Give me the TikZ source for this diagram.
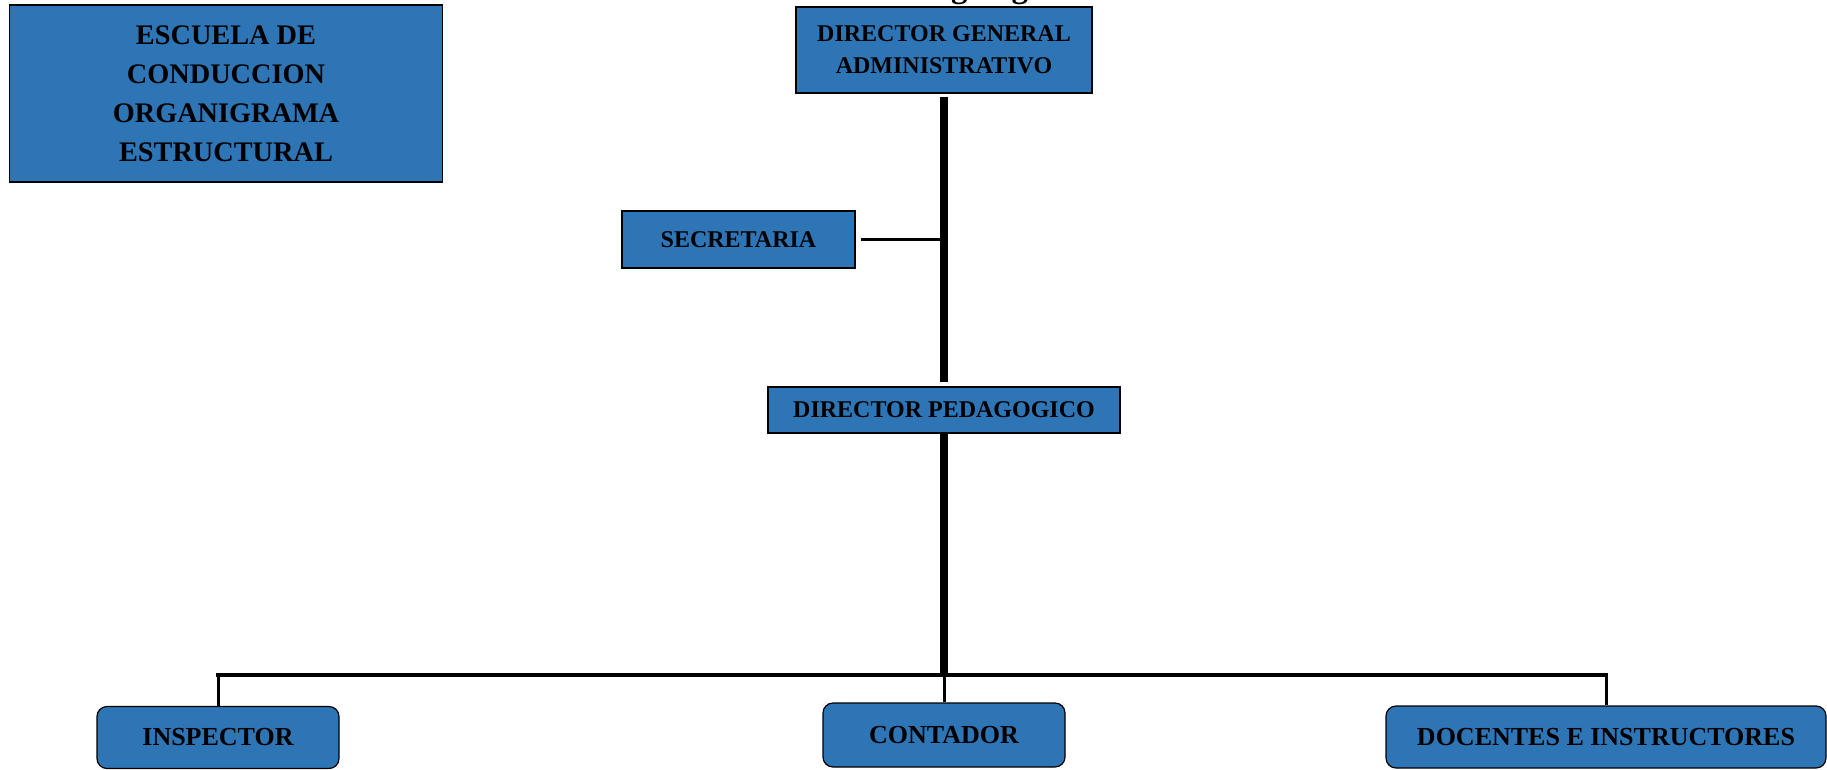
\documentclass[tikz,border=0pt]{standalone}
\usepackage{fontspec}
\setmainfont{Liberation Serif}
\usetikzlibrary{positioning}
\definecolor{orgblue}{RGB}{46,117,182}

\begin{document}
\begin{tikzpicture}[
    x=1pt, y=-1pt,
    box/.style={draw, fill=orgblue, line width=1.2pt, inner sep=0pt, align=center, font=\bfseries\fontsize{24}{32}\selectfont},
    unit/.style={box, rounded corners=10pt, minimum height=62pt, font=\bfseries\fontsize{26}{32}\selectfont},
    spine/.style={line width=8pt},
    link/.style={line width=3.5pt}
]

\useasboundingbox (0,0) rectangle (1827,769);
\clip (0,0) rectangle (1827,769);

\node[font=\bfseries\fontsize{33}{40}\selectfont, anchor=base] (head) at (1007,-3) {Organigrama};

\node[box, minimum width=433pt, minimum height=177pt, font=\bfseries\fontsize{28.3}{39}\selectfont] (title) at (226,93.5) {ESCUELA DE\\CONDUCCION\\ORGANIGRAMA\\ESTRUCTURAL};

\node[box, minimum width=296pt, minimum height=86pt] (dga) at (944,50) {DIRECTOR GENERAL\\ADMINISTRATIVO};

\node[box, minimum width=233pt, minimum height=57pt] (sec) at (738.5,239.5) {SECRETARIA};

\node[box, minimum width=352pt, minimum height=46pt] (dp) at (944,410) {DIRECTOR PEDAGOGICO};

\node[unit, minimum width=242pt] (insp) at (218,737.5) {INSPECTOR};

\node[unit, minimum width=242pt, minimum height=64pt] (cont) at (944,735) {CONTADOR};

\node[unit, minimum width=440pt] (doc) at (1606,737) {DOCENTES E INSTRUCTORES};

\coordinate (bus) at (944,675);

\draw[spine] ([yshift=-3pt]dga.south) -- ([yshift=4pt]dp.north);
\draw[spine] (dp.south) -- (dp.south |- bus);

\draw[link] ([xshift=5pt]sec.east) -- (sec.east -| dga.south);

\draw[line width=4pt] ([xshift=-2pt]insp.north |- bus) -- ([xshift=2pt]doc.north |- bus);
\draw[line width=3pt] (insp.north |- bus) -- (insp.north);
\draw[line width=3pt] (bus) -- (cont.north);
\draw[line width=3pt] (doc.north |- bus) -- (doc.north);

\end{tikzpicture}
\end{document}
